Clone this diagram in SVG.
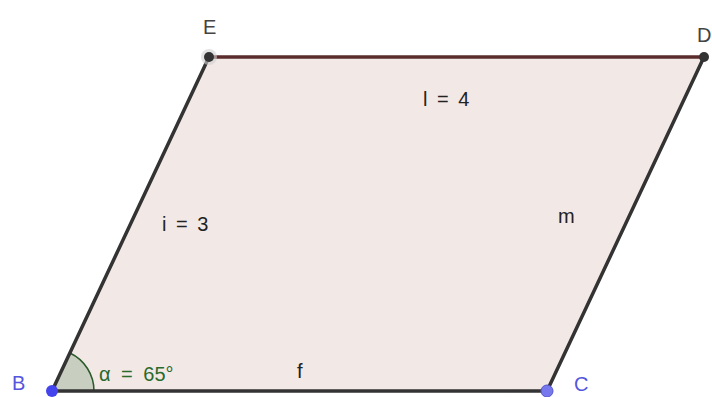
<svg xmlns="http://www.w3.org/2000/svg" width="712" height="397" viewBox="0 0 712 397">
<style>
.lbl{font-family:"Liberation Sans",Arial,sans-serif;font-size:20px;fill:#222;word-spacing:4px}
.pt{font-family:"Liberation Sans",Arial,sans-serif;font-size:20px}
.edge{stroke:#333;stroke-width:3.5;fill:none;stroke-linecap:round}
</style>
<rect width="712" height="397" fill="#ffffff"/>
<g id="shape">
<polygon points="52,391 547,391 704,57 209,57" fill="#f2e8e6"/>
<path d="M52,391 L94,391 A42,42 0 0 0 69.9,353 Z" fill="#c9cfc0" stroke="none"/>
<path d="M94,391 A42,42 0 0 0 69.9,353" fill="none" stroke="#2a5a2a" stroke-width="1.5"/>
</g>
<g id="connectors">
<line id="f" class="edge" x1="52" y1="391" x2="547" y2="391"/>
<line id="m" class="edge" x1="547" y1="391" x2="704" y2="57"/>
<line id="l" class="edge" x1="704" y1="57" x2="209" y2="57" style="stroke:#5a2c2c"/>
<line id="i" class="edge" x1="209" y1="57" x2="52" y2="391"/>
</g>
<g id="node-E">
<circle cx="209" cy="57" r="8" fill="#d0d0d0" opacity="0.6"/>
<circle cx="209" cy="57" r="5" fill="#333"/>
<text class="pt" x="203" y="34" fill="#444">E</text>
</g>
<g id="node-D">
<circle cx="704" cy="57" r="5" fill="#333"/>
<text class="pt" x="697" y="42" fill="#444">D</text>
</g>
<g id="node-B">
<circle cx="52" cy="391" r="6" fill="#4444ee"/>
<text class="pt" x="12" y="390" fill="#5555dd">B</text>
</g>
<g id="node-C">
<circle cx="547" cy="391" r="6" fill="#7777ee" stroke="#5555cc" stroke-width="1"/>
<text class="pt" x="574" y="391" fill="#5555dd">C</text>
</g>
<g id="labels">
<text class="lbl" x="423" y="106">l = 4</text>
<text class="lbl" x="162" y="231">i = 3</text>
<text class="lbl" x="558" y="223">m</text>
<text class="lbl" x="297" y="378">f</text>
<text class="pt" x="99" y="381" fill="#2a6a2a" style="word-spacing:5px">α = 65°</text>
</g>
</svg>
